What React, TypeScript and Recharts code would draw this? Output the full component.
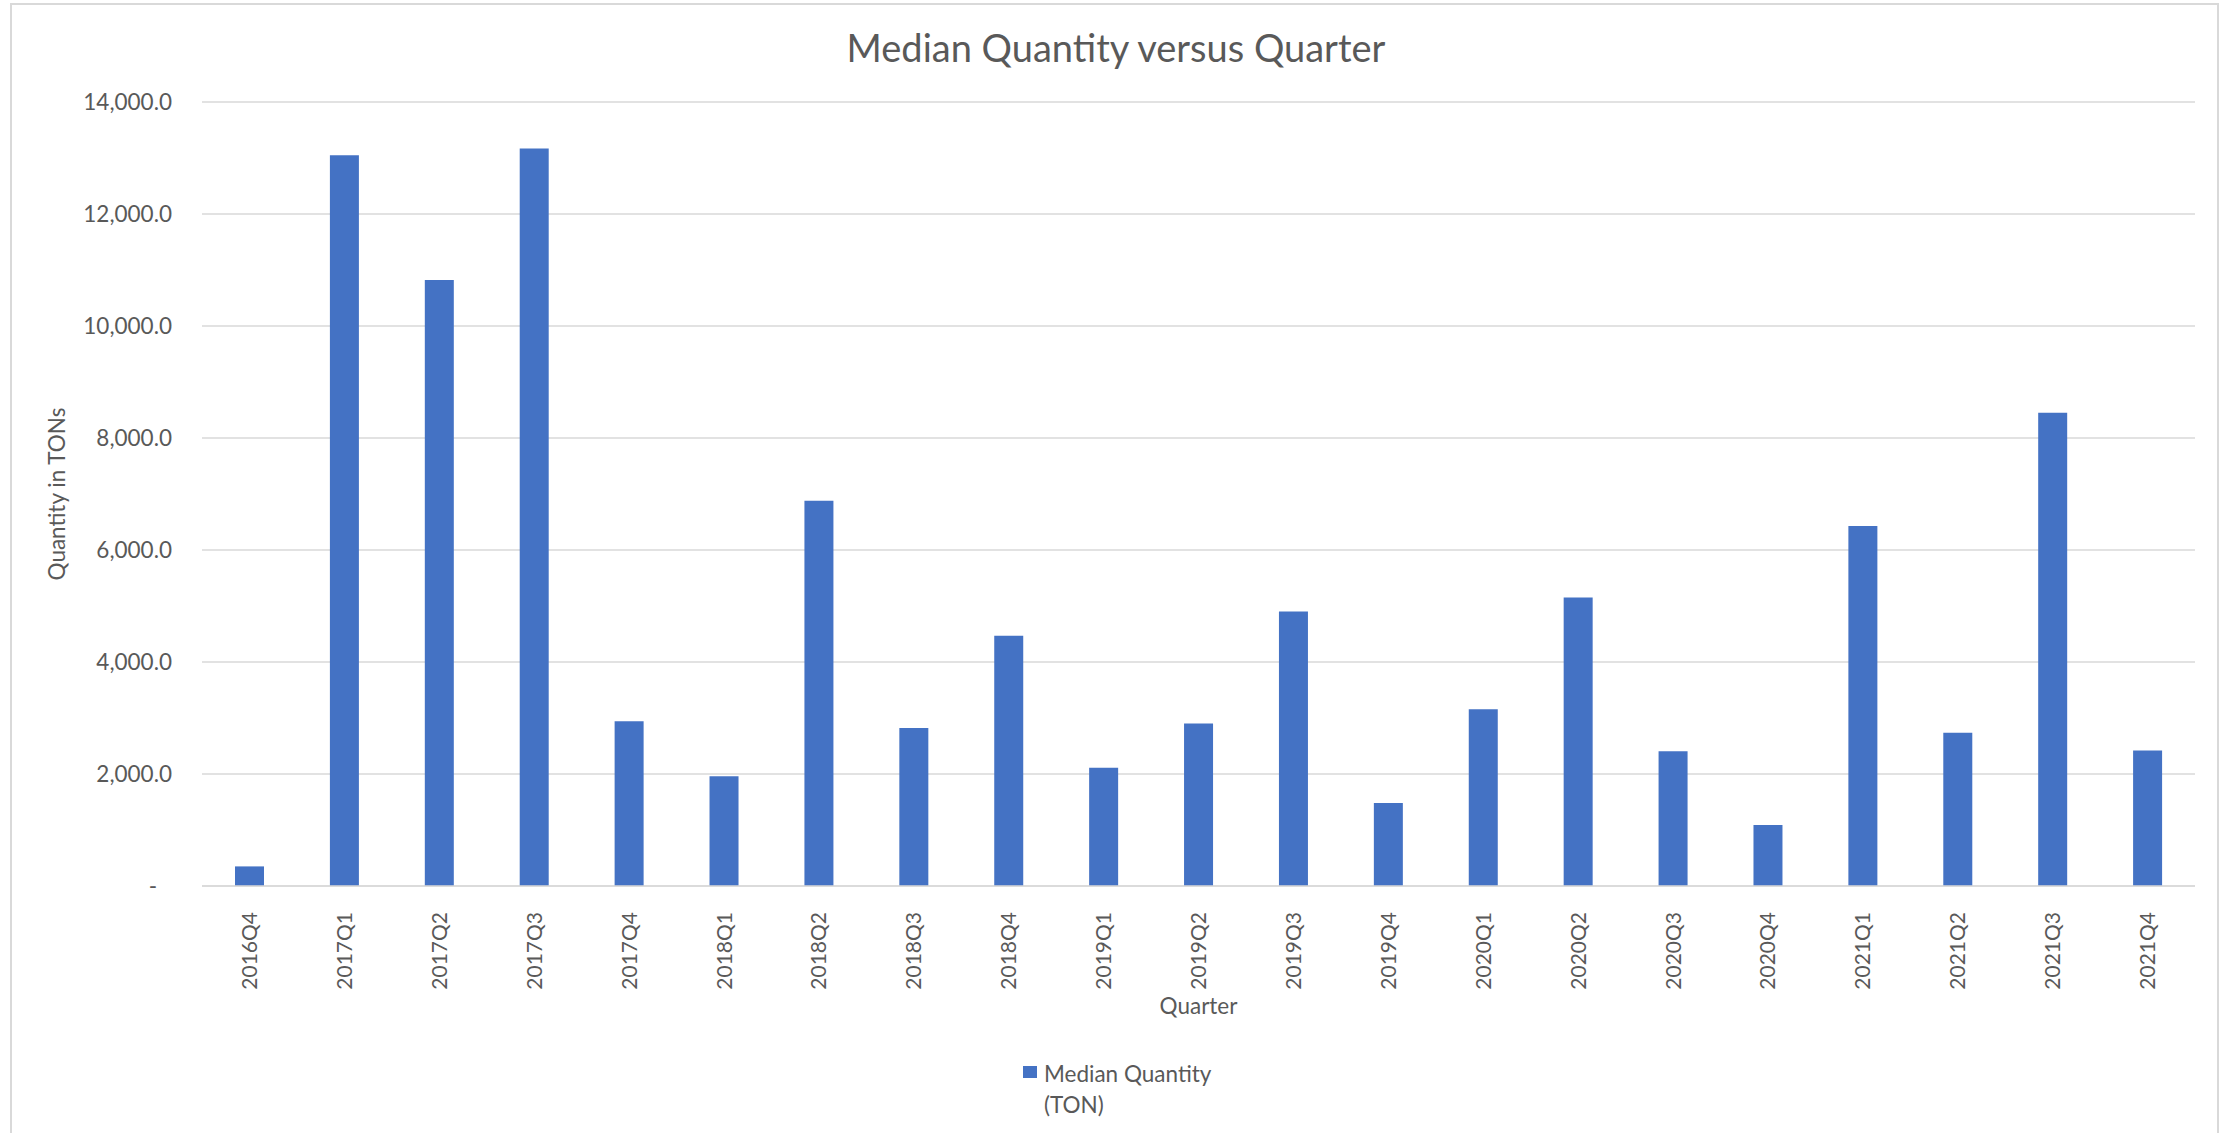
import { BarChart, Bar, XAxis, YAxis, CartesianGrid, Legend } from 'recharts';

const quarters = [
  '2016Q4', '2017Q1', '2017Q2', '2017Q3', '2017Q4', '2018Q1', '2018Q2', '2018Q3', '2018Q4',
  '2019Q1', '2019Q2', '2019Q3', '2019Q4', '2020Q1', '2020Q2', '2020Q3', '2020Q4',
  '2021Q1', '2021Q2', '2021Q3', '2021Q4',
];
const medianQuantity = [
  350, 13050, 10820, 13170, 2940, 1960, 6880, 2820, 4470,
  2110, 2900, 4900, 1480, 3155, 5150, 2405, 1090,
  6430, 2735, 8450, 2420,
];
const yTicks = [0, 2000, 4000, 6000, 8000, 10000, 12000, 14000];

const data = quarters.map((q, i) => ({ quarter: q, value: medianQuantity[i] }));

const FONT = 'Lato, "Open Sans", sans-serif';
const TEXT = '#595959';
const GRID = '#d9d9d9';
const BLUE = '#4472C4';

const fmt = (v: number) =>
  v === 0 ? '-' : v.toLocaleString('en-US', { minimumFractionDigits: 1, maximumFractionDigits: 1 });

function YTick({ x, y, payload }: any) {
  const shift = payload.value === 0 ? 15 : 0;
  return (
    <text x={x - shift} y={y} dy="0.35em" textAnchor="end" fill={TEXT} fontSize={22.5} fontFamily={FONT}>
      {fmt(payload.value)}
    </text>
  );
}

function XTick({ x, y, payload }: any) {
  return (
    <text
      x={x}
      y={y + 18}
      dy="0.36em"
      textAnchor="end"
      transform={`rotate(-90, ${x}, ${y + 18})`}
      fill={TEXT}
      fontSize={21}
      fontFamily={FONT}
    >
      {payload.value}
    </text>
  );
}

function YTitle({ viewBox }: any) {
  const cy = viewBox.y + viewBox.height / 2;
  return (
    <text x={57} y={cy} dy="0.35em" textAnchor="middle" transform={`rotate(-90, 57, ${cy})`}
      fill={TEXT} fontSize={22.5} fontFamily={FONT}>
      Quantity in TONs
    </text>
  );
}

function XTitle({ viewBox }: any) {
  return (
    <text x={viewBox.x + viewBox.width / 2} y={1006} dy="0.35em" textAnchor="middle"
      fill={TEXT} fontSize={22.5} fontFamily={FONT}>
      Quarter
    </text>
  );
}

function LegendBox({ payload }: any) {
  const item = payload && payload[0];
  return (
    <div style={{ display: 'flex', alignItems: 'flex-start', fontFamily: FONT, fontSize: 22.5, color: TEXT }}>
      <span style={{ display: 'inline-block', width: 14, height: 12, background: BLUE, marginTop: 8, marginRight: 7 }} />
      <div style={{ width: 185, lineHeight: '31px' }}>{item ? item.value : ''}</div>
    </div>
  );
}

export default function App() {
  return (
    <div style={{ position: 'absolute', left: 0, top: 0, width: 2234, height: 1133, background: '#fff', overflow: 'hidden' }}>
      <div style={{ position: 'absolute', left: 10, top: 3, width: 2209, height: 1140, border: `2px solid ${GRID}`, boxSizing: 'border-box' }} />
      <div style={{ position: 'absolute', left: 0, top: 24, width: 2234, textAlign: 'center', fontFamily: FONT, fontSize: 38, color: TEXT }}>
        <span style={{ position: 'relative', left: -1 }}>Median Quantity versus Quarter</span>
      </div>
      <div style={{ position: 'absolute', left: 0, top: 0 }}>
        <BarChart width={2234} height={1133} data={data} margin={{ top: 102, right: 39, left: 0, bottom: 127 }}>
          <CartesianGrid vertical={false} stroke={GRID} strokeWidth={1.5} />
          <XAxis
            dataKey="quarter"
            interval={0}
            height={120}
            tick={<XTick />}
            tickLine={false}
            axisLine={{ stroke: GRID, strokeWidth: 1.5 }}
            label={<XTitle />}
          />
          <YAxis
            domain={[0, 14000]}
            ticks={yTicks}
            width={202}
            tickSize={0}
            tickMargin={30}
            tick={<YTick />}
            tickLine={false}
            axisLine={false}
            label={<YTitle />}
          />
          <Legend
            layout="horizontal"
            verticalAlign="middle"
            align="center"
            content={<LegendBox />}
            wrapperStyle={{ left: 1023, top: 1058, width: 260 }}
          />
          <Bar dataKey="value" name="Median Quantity (TON)" fill={BLUE} barSize={29} isAnimationActive={false} />
        </BarChart>
      </div>
    </div>
  );
}
